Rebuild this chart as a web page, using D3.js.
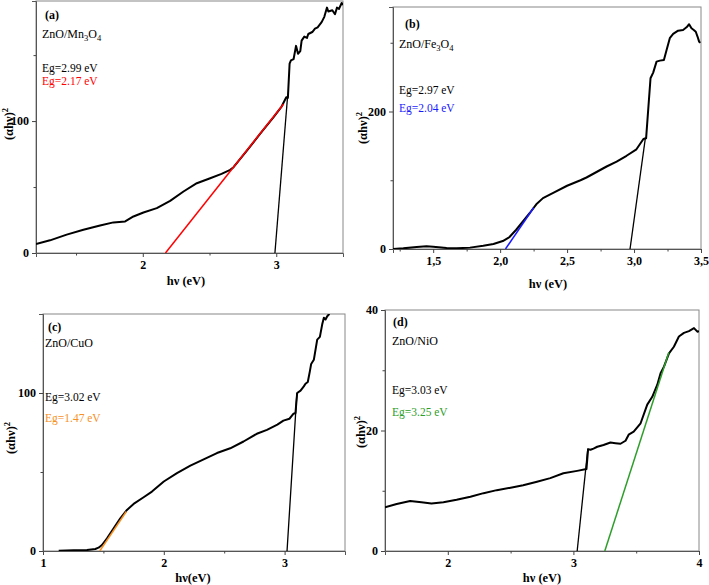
<!DOCTYPE html>
<html><head><meta charset="utf-8">
<script src="https://cdn.jsdelivr.net/npm/d3@7"></script>
<style>
body{margin:0;background:#fff;}
svg{display:block;font-family:"Liberation Serif","Times New Roman",serif;}
</style></head>
<body><svg id="c" width="709" height="585"></svg>
<script>
// ---------- data ----------
// (a) ZnO/Mn3O4
const mnX = [1.2,1.305,1.43,1.555,1.68,1.78,1.868,1.93,2.005,2.105,2.205,2.305,2.405,2.505,2.59,2.655,2.68,2.78,2.88,2.98,3.04,3.075,3.087,3.10,3.11,3.13,3.148,3.163,3.18,3.19,3.21,3.23,3.24,3.27,3.29,3.31,3.34,3.36,3.38,3.39,3.42,3.44,3.455,3.47,3.49,3.5];
const mnY = [6.8,9.6,13.9,17.6,20.9,23.2,23.9,27.7,30.7,34,39.5,46.6,52.9,56.7,60,63,65,77.6,90.4,103,111,118,117.6,143.6,146,147,157,151,153,161,164,163,166,167.5,170,171,175,179,186,183,184,181,186,185,189.5,188];
const mnFitBlack = [[2.99,0],[3.085,119]];
const mnFitColor = [[2.17,0],[3.055,113]];
// (b) ZnO/Fe3O4
const feX = [1.2,1.277,1.377,1.45,1.5,1.6,1.675,1.775,1.874,1.95,2.02,2.07,2.12,2.17,2.22,2.27,2.32,2.4,2.5,2.6,2.645,2.72,2.795,2.87,2.944,3.018,3.07,3.09,3.123,3.143,3.168,3.193,3.223,3.243,3.267,3.292,3.329,3.366,3.392,3.411,3.429,3.446,3.461,3.474,3.486,3.496];
const feY = [0,1,2.9,3.9,3.4,1.5,1,2,4.8,7.3,11.6,17.4,28,40,52,65,74,82,92,100,104,112,120,127,135.6,145,160,161,248.4,256.6,272.6,274,275,289.6,306.6,312.8,317.6,318.6,322.5,326.9,321,318.6,316,309,301.6,300];
const feFitBlack = [[2.97,0],[3.085,162]];
const feFitColor = [[2.04,0],[2.25,60]];
// (c) ZnO/CuO
const cuX = [1.13,1.254,1.364,1.433,1.46,1.488,1.53,1.585,1.64,1.695,1.75,1.833,1.902,2.0,2.109,2.22,2.33,2.44,2.55,2.66,2.77,2.854,2.94,2.99,3.04,3.074,3.09,3.104,3.132,3.159,3.173,3.192,3.209,3.22,3.242,3.27,3.292,3.311,3.325,3.339,3.353,3.366,3.38];
const cuY = [0.2,0.4,0.6,1.3,2.1,3.8,8,14.4,20.7,26,29.8,34,37.6,44,49.3,54,58,62,65,69.3,74.2,76.7,80,82.5,83.7,86.9,87.3,100,101.5,104.2,105.9,107,113.7,118.4,121,133.8,135.5,143.3,147.6,146.5,148.6,149.7,152];
const cuFitBlack = [[3.02,0],[3.102,100]];
const cuFitColor = [[1.47,0],[1.69,25]];
// (d) ZnO/NiO
const niX = [1.5,1.593,1.7,1.79,1.87,1.965,2.07,2.18,2.285,2.39,2.5,2.6,2.71,2.816,2.92,3.03,3.104,3.117,3.136,3.16,3.19,3.24,3.295,3.335,3.375,3.415,3.44,3.48,3.535,3.588,3.628,3.668,3.694,3.721,3.761,3.8,3.84,3.88,3.92,3.96,3.987,4.0];
const niY = [7.25,7.8,8.3,8.1,7.9,8.1,8.5,9.0,9.6,10.1,10.5,10.9,11.5,12.1,12.9,13.3,13.6,16.9,16.8,17,17.3,17.6,18,17.9,17.8,18.3,19.3,19.8,21.2,24.3,25.6,27.6,29.5,30.6,32.8,33.9,35.6,36.2,36.5,37,36.4,36.5];
const niFitBlack = [[3.03,0],[3.115,17]];
const niFitColor = [[3.25,0],[3.76,33]];

// tick definitions
const panelLetters = ["(a)","(b)","(c)","(d)"];
const sampleNames = [["ZnO/Mn","3","O","4"],["ZnO/Fe","3","O","4"],["ZnO/CuO"],["ZnO/NiO"]];
const egBlack = ["Eg=2.99 eV","Eg=2.97 eV","Eg=3.02 eV","Eg=3.03 eV"];
const egColor = ["Eg=2.17 eV","Eg=2.04 eV","Eg=1.47 eV","Eg=3.25 eV"];
const xLabels = ["hν (eV)","hν (eV)","hν(eV)","hν (eV)"];
const xMajor = [[2,3],[1.5,2,2.5,3,3.5],[1,2,3],[2,3,4]];
const xMinor = [[1.5,2.5],[1.25,1.75,2.25,2.75,3.25],[1.5,2.5],[2.5,3.5]];
const yMajor = [[0,100],[0,200],[0,100],[0,20,40]];
const yMinor = [[50,150],[100,300],[50],[10,30]];

// ---------- layout ----------
const panels = [
  {x:mnX,y:mnY,fb:mnFitBlack,fc:mnFitColor,col:"#ff0000",xd:[1.2,3.5],yd:[0,191],L:36,R:343,T:1,B:253,comma:false,
   lab:{lx:45,ly:19,nx:42,ny:38,e1y:72,e2y:85,ylx:13,yly:124,xlx:186,xly:285}},
  {x:feX,y:feY,fb:feFitBlack,fc:feFitColor,col:"#1a1aff",xd:[1.2,3.5],yd:[0,352],L:393,R:701,T:7,B:249,comma:true,
   lab:{lx:405,ly:28,nx:399,ny:48,e1y:94,e2y:112,ylx:367,yly:128,xlx:548,xly:288}},
  {x:cuX,y:cuY,fb:cuFitBlack,fc:cuFitColor,col:"#f7901e",xd:[1,3.5],yd:[0,150],L:43,R:345,T:314,B:551,comma:false,
   lab:{lx:48,ly:331,nx:45,ny:347,e1y:401,e2y:422,ylx:15,yly:438,xlx:193,xly:582}},
  {x:niX,y:niY,fb:niFitBlack,fc:niFitColor,col:"#2e9e2a",xd:[1.5,4],yd:[0,40],L:385,R:699,T:310,B:551,comma:false,
   lab:{lx:393,ly:326,nx:392,ny:345,e1y:394,e2y:416,ylx:365,yly:432,xlx:542,xly:582}}
];

const svg = d3.select("#c");

panels.forEach((p,i)=>{
  const xs = d3.scaleLinear().domain(p.xd).range([p.L,p.R]);
  const ys = d3.scaleLinear().domain(p.yd).range([p.B,p.T]);
  const g = svg.append("g");
  const cid = "clip"+i;
  svg.append("defs").append("clipPath").attr("id",cid)
    .append("rect").attr("x",p.L).attr("y",p.T).attr("width",p.R-p.L).attr("height",p.B-p.T);

  // frame
  g.append("rect").attr("x",p.L).attr("y",p.T).attr("width",p.R-p.L).attr("height",p.B-p.T)
    .attr("fill","none").attr("stroke","#888").attr("stroke-width",1);

  const fmt = p.comma ? (d=>d3.format(".1f")(d).replace(".",",")) : d3.format("d");
  // x axis
  g.append("g").attr("transform",`translate(0,${p.B})`)
    .call(d3.axisBottom(xs).tickValues(xMajor[i]).tickFormat(fmt).tickSize(4).tickPadding(3));
  g.append("g").attr("transform",`translate(0,${p.B})`)
    .call(d3.axisBottom(xs).tickValues(xMinor[i]).tickFormat("").tickSize(2.5))
    .call(s=>s.select(".domain").remove());
  // y axis
  g.append("g").attr("transform",`translate(${p.L},0)`)
    .call(d3.axisLeft(ys).tickValues(yMajor[i]).tickFormat(d3.format("d")).tickSize(4).tickPadding(3));
  g.append("g").attr("transform",`translate(${p.L},0)`)
    .call(d3.axisLeft(ys).tickValues(yMinor[i]).tickFormat("").tickSize(2.5))
    .call(s=>s.select(".domain").remove());
  g.selectAll(".domain").attr("stroke","#555");
  g.selectAll(".tick line").attr("stroke","#444");
  g.selectAll(".tick text").attr("font-family","Liberation Serif, serif").attr("font-weight","bold")
    .attr("font-size",12).attr("fill","#000");

  // axis titles
  g.append("text").attr("x",p.lab.xlx).attr("y",p.lab.xly).attr("text-anchor","middle")
    .attr("font-weight","bold").attr("font-size",12.5).text(xLabels[i]);
  const yt = g.append("text").attr("transform",`translate(${p.lab.ylx},${p.lab.yly}) rotate(-90)`)
    .attr("text-anchor","middle").attr("font-weight","bold").attr("font-size",12.5);
  yt.append("tspan").text("(αhν)");
  yt.append("tspan").attr("dy",-5).attr("font-size",8.5).text("2");

  // curves
  const pts = p.x.map((v,k)=>[v,p.y[k]]);
  const line = d3.line().x(d=>xs(d[0])).y(d=>ys(d[1])).curve(d3.curveLinear);
  const cg = g.append("g").attr("clip-path",`url(#${cid})`);
  cg.append("path").datum(pts).attr("d",line).attr("fill","none").attr("stroke","#000")
    .attr("stroke-width",2).attr("stroke-linejoin","round");
  cg.append("path").datum(p.fb).attr("d",line).attr("fill","none").attr("stroke","#000").attr("stroke-width",1.3);
  cg.append("path").datum(p.fc).attr("d",line).attr("fill","none").attr("stroke",p.col).attr("stroke-width",1.5);

  // annotations
  g.append("text").attr("x",p.lab.lx).attr("y",p.lab.ly).attr("font-weight","bold").attr("font-size",12).text(panelLetters[i]);
  const nm = g.append("text").attr("x",p.lab.nx).attr("y",p.lab.ny).attr("font-size",12);
  const parts = sampleNames[i];
  if(parts.length===1){ nm.text(parts[0]); }
  else {
    nm.append("tspan").text(parts[0]);
    nm.append("tspan").attr("dy",3).attr("font-size",8.5).text(parts[1]);
    nm.append("tspan").attr("dy",-3).text(parts[2]);
    nm.append("tspan").attr("dy",3).attr("font-size",8.5).text(parts[3]);
  }
  g.append("text").attr("x",p.lab.nx).attr("y",p.lab.e1y).attr("font-size",11.5).attr("fill","#000").text(egBlack[i]);
  g.append("text").attr("x",p.lab.nx).attr("y",p.lab.e2y).attr("font-size",11.5).attr("fill",p.col).text(egColor[i]);
});
</script></body></html>
